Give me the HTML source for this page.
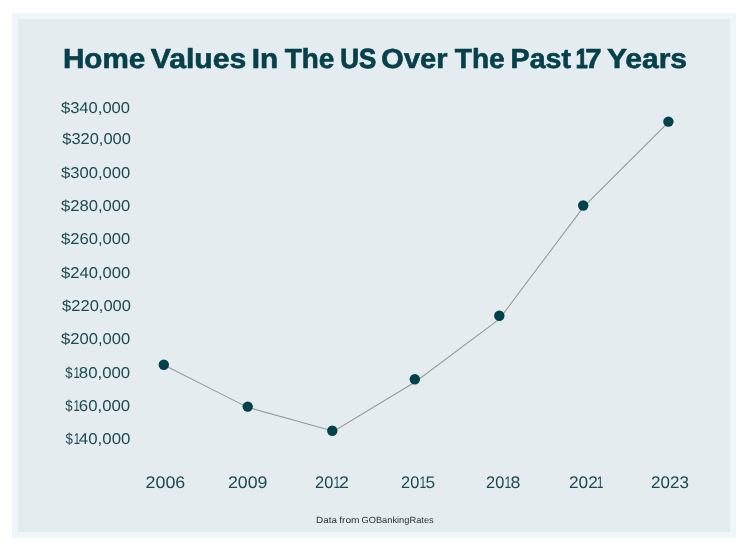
<!DOCTYPE html>
<html lang="en">
<head>
<meta charset="utf-8">
<title>Home Values In The US Over The Past 17 Years</title>
<style>
  html, body { margin: 0; padding: 0; background: #ffffff; }
  body { width: 750px; height: 552px; overflow: hidden; position: relative;
         font-family: "Liberation Sans", sans-serif; }
  .frame { position: absolute; left: 12px; top: 13px; width: 724px; height: 525px; background: #eff6f9; }
  .panel { position: absolute; left: 18px; top: 19px; width: 712px; height: 513px; background: #e5ecef; }
  svg { position: absolute; left: 0; top: 0; }
  svg text { font-family: "Liberation Sans", sans-serif; white-space: pre; text-rendering: geometricPrecision; }
  .title { font-weight: 700; font-size: 27.6px; fill: #06404a; stroke: #06404a; stroke-width: 0.6px; }
  .ylab  { font-size: 15.7px; fill: #1d4a52; }
  .xlab  { font-size: 16.8px; fill: #1d4a52; }
  .foot  { font-size: 9.0px; fill: #283337; }
</style>
</head>
<body>
<div class="frame"></div>
<div class="panel"></div>
<svg width="750" height="552" viewBox="0 0 750 552">
  <defs>
    <filter id="soft" x="-30%" y="-30%" width="160%" height="160%">
      <feGaussianBlur stdDeviation="0.65"/>
    </filter>
  </defs>

  <text class="title" y="67.9"><tspan x="62.92" textLength="82.37" lengthAdjust="spacingAndGlyphs">Home</tspan> <tspan x="150.73" textLength="95.59" lengthAdjust="spacingAndGlyphs">Values</tspan> <tspan x="251.82" textLength="26.40" lengthAdjust="spacingAndGlyphs">In</tspan> <tspan x="284.75" textLength="49.63" lengthAdjust="spacingAndGlyphs">The</tspan> <tspan x="340.36" textLength="35.97" lengthAdjust="spacingAndGlyphs" stroke-width="0.85">US</tspan> <tspan x="381.39" textLength="66.04" lengthAdjust="spacingAndGlyphs">Over</tspan> <tspan x="454.75" textLength="49.94" lengthAdjust="spacingAndGlyphs">The</tspan> <tspan x="510.59" textLength="60.42" lengthAdjust="spacingAndGlyphs">Past</tspan> <tspan x="575.64" textLength="11.98" lengthAdjust="spacingAndGlyphs" stroke-width="1.0">1</tspan><tspan x="585.37" textLength="16.30" lengthAdjust="spacingAndGlyphs">7</tspan> <tspan x="606.96" textLength="80.12" lengthAdjust="spacingAndGlyphs">Years</tspan></text>
  <g class="ylab">
    <text y="112.8"><tspan x="60.94" textLength="69.09" lengthAdjust="spacingAndGlyphs">$340,000</tspan></text>
    <text y="143.6"><tspan x="62.24" textLength="68.68" lengthAdjust="spacingAndGlyphs">$320,000</tspan></text>
    <text y="177.6"><tspan x="61.04" textLength="69.09" lengthAdjust="spacingAndGlyphs">$300,000</tspan></text>
    <text y="210.5"><tspan x="60.94" textLength="69.29" lengthAdjust="spacingAndGlyphs">$280,000</tspan></text>
    <text y="243.8"><tspan x="60.94" textLength="69.29" lengthAdjust="spacingAndGlyphs">$260,000</tspan></text>
    <text y="277.6"><tspan x="60.94" textLength="69.29" lengthAdjust="spacingAndGlyphs">$240,000</tspan></text>
    <text y="310.5"><tspan x="62.14" textLength="68.79" lengthAdjust="spacingAndGlyphs">$220,000</tspan></text>
    <text y="343.8"><tspan x="60.94" textLength="69.29" lengthAdjust="spacingAndGlyphs">$200,000</tspan></text>
    <text y="377.6"><tspan x="65.19" textLength="7.31" lengthAdjust="spacingAndGlyphs">$</tspan><tspan x="73.55" textLength="6.29" lengthAdjust="spacingAndGlyphs">1</tspan><tspan x="78.80" textLength="51.39" lengthAdjust="spacingAndGlyphs">80,000</tspan></text>
    <text y="410.5"><tspan x="65.19" textLength="7.31" lengthAdjust="spacingAndGlyphs">$</tspan><tspan x="73.55" textLength="6.29" lengthAdjust="spacingAndGlyphs">1</tspan><tspan x="78.80" textLength="51.39" lengthAdjust="spacingAndGlyphs">60,000</tspan></text>
    <text y="443.6"><tspan x="65.49" textLength="7.31" lengthAdjust="spacingAndGlyphs">$</tspan><tspan x="73.65" textLength="6.29" lengthAdjust="spacingAndGlyphs">1</tspan><tspan x="78.83" textLength="51.56" lengthAdjust="spacingAndGlyphs">40,000</tspan></text>
  </g>
  <g class="xlab">
    <text y="487.8"><tspan x="145.60" textLength="39.69" lengthAdjust="spacingAndGlyphs">2006</tspan></text>
    <text y="487.8"><tspan x="228.01" textLength="39.49" lengthAdjust="spacingAndGlyphs">2009</tspan></text>
    <text y="487.8"><tspan x="315.07" textLength="18.18" lengthAdjust="spacingAndGlyphs">20</tspan><tspan x="333.42" textLength="6.73" lengthAdjust="spacingAndGlyphs">1</tspan><tspan x="339.01" textLength="9.89" lengthAdjust="spacingAndGlyphs">2</tspan></text>
    <text y="487.8"><tspan x="401.07" textLength="18.18" lengthAdjust="spacingAndGlyphs">20</tspan><tspan x="419.42" textLength="6.73" lengthAdjust="spacingAndGlyphs">1</tspan><tspan x="425.63" textLength="9.65" lengthAdjust="spacingAndGlyphs">5</tspan></text>
    <text y="487.8"><tspan x="486.07" textLength="18.18" lengthAdjust="spacingAndGlyphs">20</tspan><tspan x="504.42" textLength="6.73" lengthAdjust="spacingAndGlyphs">1</tspan><tspan x="510.61" textLength="9.89" lengthAdjust="spacingAndGlyphs">8</tspan></text>
    <text y="487.8"><tspan x="569.03" textLength="28.74" lengthAdjust="spacingAndGlyphs">202</tspan><tspan x="596.82" textLength="6.73" lengthAdjust="spacingAndGlyphs">1</tspan></text>
    <text y="487.8"><tspan x="651.04" textLength="37.81" lengthAdjust="spacingAndGlyphs">2023</tspan></text>
  </g>
  <text class="foot" y="522.6"><tspan x="316.08" textLength="20.84" lengthAdjust="spacingAndGlyphs">Data</tspan> <tspan x="339.22" textLength="20.35" lengthAdjust="spacingAndGlyphs">from</tspan> <tspan x="361.48" textLength="72.22" lengthAdjust="spacingAndGlyphs">GOBankingRates</tspan></text>

  <polyline fill="none" stroke="#96999a" stroke-width="1.05" points="163.9,365.0 247.7,407.35 333.7,431.3 415.2,382.0 499.3,319.05 583.8,206.6 668.3,122.3"/>

  <g fill="#04424b" filter="url(#soft)">
    <circle cx="163.8" cy="364.8" r="5.2"/>
    <circle cx="247.7" cy="406.6" r="5.2"/>
    <circle cx="332.3" cy="430.7" r="5.2"/>
    <circle cx="414.8" cy="379.3" r="5.2"/>
    <circle cx="499.3" cy="315.8" r="5.2"/>
    <circle cx="583.2" cy="205.5" r="5.2"/>
    <circle cx="668.4" cy="121.6" r="5.2"/>
  </g>
</svg>
</body>
</html>
